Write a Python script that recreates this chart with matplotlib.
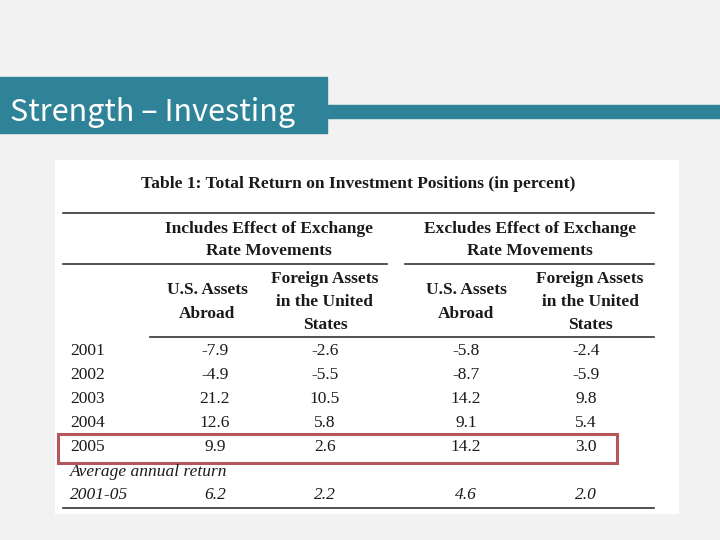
import matplotlib.pyplot as plt
from matplotlib.patches import Rectangle

# table contents
years = ['2001', '2002', '2003', '2004', '2005']
us_incl = [-7.9, -4.9, 21.2, 12.6, 9.9]
foreign_incl = [-2.6, -5.5, 10.5, 5.8, 2.6]
us_excl = [-5.8, -8.7, 14.2, 9.1, 14.2]
foreign_excl = [-2.4, -5.9, 9.8, 5.4, 3.0]
avg_label = '2001-05'
avg_values = [6.2, 2.2, 4.6, 2.0]
group_heads = ['Includes Effect of Exchange\nRate Movements',
               'Excludes Effect of Exchange\nRate Movements']
col_heads = ['U.S. Assets\nAbroad', 'Foreign Assets\nin the United\nStates',
             'U.S. Assets\nAbroad', 'Foreign Assets\nin the United\nStates']
highlight_year = '2005'

fig = plt.figure(figsize=(7.2, 5.4), dpi=100)
fig.patch.set_facecolor('#f2f2f2')
ax = fig.add_axes([0, 0, 1, 1])
ax.set_xlim(0, 720)
ax.set_ylim(540, 0)
ax.axis('off')

teal = '#2f8398'
# slide header
ax.add_patch(Rectangle((0, 77), 327, 56, color=teal))
ax.add_patch(Rectangle((327, 105), 393, 13, color=teal))
ax.text(10, 112, 'Strength \u2013 Investing', color='white', fontsize=22,
        fontweight='medium', family=['Noto Sans CJK KR', 'DejaVu Sans'],
        va='center', ha='left')

# white table image
ax.add_patch(Rectangle((55, 160), 623, 353, color='white'))

serif = 'Liberation Serif'
ink = '#1a1a1a'
ax.text(358, 184, 'Table 1: Total Return on Investment Positions (in percent)',
        family=serif, fontweight='bold', fontsize=12.6, ha='center', va='center', color=ink)

rule = dict(color='#333333', lw=1.2)
ax.plot([63, 654], [213, 213], **rule)
ax.plot([63, 387], [264, 264], **rule)
ax.plot([405, 654], [264, 264], **rule)
ax.plot([150, 654], [337, 337], **rule)
ax.plot([63, 654], [508, 508], **rule)

for x, txt in zip([269, 530], group_heads):
    ax.text(x, 240, txt, family=serif, fontweight='bold', fontsize=12.5,
            ha='center', va='center', linespacing=1.55, color=ink)

col_x = [207, 325, 466, 590]
for x, txt in zip(col_x, col_heads):
    ax.text(x, 302, txt, family=serif, fontweight='bold', fontsize=12.5,
            ha='center', va='center', linespacing=1.6, color=ink)

val_x = [215, 325, 466, 586]
row_y0, row_h = 351, 24
columns = [us_incl, foreign_incl, us_excl, foreign_excl]
for i, yr in enumerate(years):
    y = row_y0 + i * row_h
    ax.text(70, y, yr, family=serif, fontsize=12.5, ha='left', va='center', color=ink)
    for x, col in zip(val_x, columns):
        ax.text(x, y, f'{col[i]:.1f}', family=serif, fontsize=12.5,
                ha='center', va='center', color=ink)
    if yr == highlight_year:
        ax.add_patch(Rectangle((58, y - 13), 559, 29, fill=False,
                               edgecolor='#b5575a', lw=2.2))

y_avg = row_y0 + len(years) * row_h
ax.text(70, y_avg + 1, 'Average annual return', family=serif, style='italic',
        fontsize=12.5, ha='left', va='center', color=ink)
y_avg += row_h
ax.text(70, y_avg, avg_label, family=serif, style='italic', fontsize=12.5,
        ha='left', va='center', color=ink)
for x, v in zip(val_x, avg_values):
    ax.text(x, y_avg, f'{v:.1f}', family=serif, style='italic', fontsize=12.5,
            ha='center', va='center', color=ink)

fig.savefig('out.png', dpi=100, facecolor=fig.get_facecolor())
